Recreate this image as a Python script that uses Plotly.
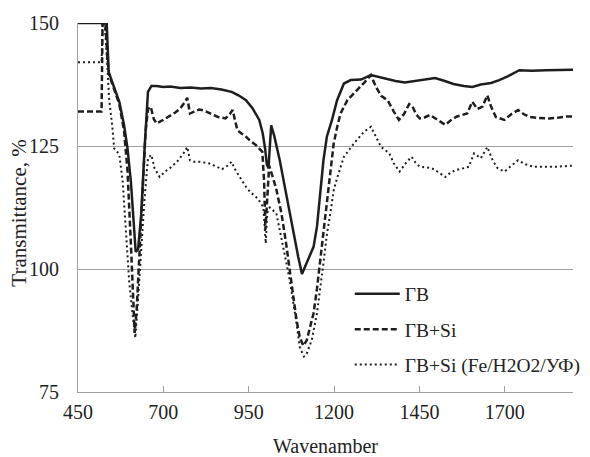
import plotly.graph_objects as go

# ΓB
wn_gv = [450, 530, 534, 540, 551, 562, 571, 585, 595, 605, 612, 619, 626, 635, 645, 650, 655, 665,
         680, 700, 720, 750, 780, 810, 840, 870, 900, 920, 942, 960, 981, 991, 998, 1003, 1008, 1012,
         1016, 1025, 1041, 1055, 1070, 1085, 1095, 1106, 1120, 1140, 1150, 1160, 1169, 1179, 1194,
         1209, 1229, 1249, 1279, 1308, 1348, 1380, 1407, 1440, 1470, 1496, 1520, 1550, 1580, 1605,
         1630, 1660, 1684, 1710, 1743, 1780, 1820, 1860, 1900]
t_gv = [150, 150, 150, 140, 138, 136, 134, 129.2, 124.5, 117.7, 111, 103.5, 104, 111, 124.5, 131.3,
        136, 137.2, 137.2, 137, 137.1, 136.8, 136.9, 136.7, 136.8, 136.5, 136, 135.3, 134.3, 132.8,
        130.3, 127.6, 124.5, 121.3, 120.5, 125, 129.2, 127, 122.1, 117, 111.3, 105.5, 102.5, 99,
        101.2, 104.5, 108.6, 115.4, 122.1, 126.9, 130.3, 134.3, 137.7, 138.4, 138.5, 139.4, 138.7,
        138.2, 137.9, 138.2, 138.5, 138.8, 138.3, 137.6, 137.2, 137, 137.5, 137.8, 138.4, 139.2,
        140.4, 140.3, 140.4, 140.4, 140.5]

# ΓB+Si
wn_si = [450, 519, 522, 530, 536, 541, 551, 562, 571, 585, 595, 605, 612, 616, 622, 630, 640, 648,
         655, 663, 672, 680, 697, 714, 735, 749, 762, 770, 778, 790, 805, 820, 840, 860, 882, 895,
         903, 910, 917, 930, 942, 955, 971, 990, 995, 999, 1004, 1010, 1030, 1046, 1060, 1075, 1090,
         1100, 1110, 1120, 1130, 1140, 1150, 1160, 1170, 1179, 1189, 1199, 1209, 1219, 1239, 1268,
         1290, 1308, 1323, 1338, 1357, 1375, 1390, 1405, 1420, 1430, 1440, 1451, 1465, 1481, 1500,
         1526, 1545, 1560, 1590, 1605, 1620, 1635, 1649, 1660, 1674, 1699, 1720, 1739, 1755, 1773,
         1800, 1830, 1860, 1880, 1900]
t_si = [132, 132, 150, 150, 143, 139.5, 137.5, 135.5, 133.5, 128, 120, 105, 93, 87, 92, 104, 118,
        128, 132.5, 133, 130.5, 129.6, 130.2, 130.9, 131.8, 132.6, 133.8, 134.8, 131.6, 132, 132.4,
        132.2, 131.6, 130.9, 130.6, 131.5, 132.3, 130, 128.2, 127.5, 126.9, 126, 125.2, 123.8, 118,
        108, 115, 121, 116.5, 111.3, 105, 97.8, 89.7, 86, 84.4, 85.5, 88, 91, 96, 102, 108, 114, 120,
        125.5, 128.8, 131.6, 134.3, 136.3, 138, 139.4, 137, 135.2, 134.3, 132, 130.3, 131.5, 133.5,
        133, 131.5, 130.6, 130.8, 131.3, 130.5, 129.3, 130.4, 131, 131.6, 134, 132.5, 133, 135.3,
        133, 130.9, 130.3, 131.5, 132.3, 131.5, 130.9, 130.7, 130.6, 130.8, 131, 131]

# ΓB+Si (Fe/H2O2/УФ)
wn_uv = [450, 519, 522, 528, 533, 541, 551, 556, 561, 571, 581, 590, 600, 610, 618, 626, 635, 645,
         655, 665, 674, 689, 705, 719, 740, 759, 770, 778, 790, 805, 833, 850, 872, 888, 900, 908,
         917, 930, 942, 955, 971, 985, 993, 997, 1000, 1003, 1006, 1012, 1031, 1051, 1070, 1090,
         1100, 1112, 1120, 1135, 1150, 1169, 1179, 1189, 1199, 1209, 1229, 1258, 1288, 1308, 1323,
         1338, 1362, 1375, 1392, 1410, 1427, 1440, 1451, 1470, 1486, 1505, 1526, 1540, 1555, 1580,
         1595, 1610, 1630, 1649, 1665, 1679, 1699, 1720, 1739, 1760, 1783, 1820, 1852, 1900]
t_uv = [142, 142, 150, 150, 145, 134.7, 128.6, 124.5, 124.2, 123.2, 117.7, 107.6, 97.4, 90.7, 86,
        94, 104.2, 114.4, 122.5, 123.2, 120.5, 118.7, 119.8, 120.5, 121.8, 123.5, 124.8, 122.1,
        121.8, 121.8, 121.5, 121, 120.3, 121, 121.8, 120.5, 119.4, 118, 116.7, 115.6, 114.7, 113.5,
        112.5, 108, 105.2, 110, 112, 112.5, 111.3, 104.5, 97.8, 89, 84, 82.2, 82.8, 85.6, 91, 101.2,
        107, 111.3, 116, 118.5, 122.8, 125.5, 127.9, 128.9, 127, 124.8, 123.5, 121.5, 119.8, 121.5,
        122.8, 121.5, 120.8, 120.7, 120.5, 119.7, 118.7, 119.5, 120.1, 120.5, 120.8, 123.5, 122.5,
        124.8, 122, 120.5, 119.8, 121, 122.1, 121.3, 120.8, 120.8, 120.8, 121]

x_ticks = [450, 700, 950, 1200, 1450, 1700]
y_ticks = [75, 100, 125, 150]

ink = "#1e1e1e"
grey = "#a0a0a0"
# only the generic name resolved to a Times-like face here
txt = dict(family="serif", size=20, color="#222222")

fig = go.Figure()
fig.add_trace(go.Scatter(x=wn_gv, y=t_gv, mode="lines", name="ΓB", legendgroup="a",
                         line=dict(color=ink, width=2.5)))
fig.add_trace(go.Scatter(x=wn_si, y=t_si, mode="lines", name="ΓB+Si", legendgroup="b",
                         line=dict(color=ink, width=2.5, dash="6px,3px")))
fig.add_trace(go.Scatter(x=wn_uv, y=t_uv, mode="lines", name="ΓB+Si (Fe/H2O2/УФ)", legendgroup="c",
                         line=dict(color=ink, width=2, dash="2px,3px")))

# y title placed by hand, it sits a bit below the plot centre in the original
fig.add_annotation(text="Transmittance, %", textangle=-90, xref="paper", yref="paper",
                   x=-0.12, y=0.485, xanchor="center", yanchor="middle", showarrow=False,
                   font=dict(family="serif", size=21, color="#222222"))

# the page body has an 8px margin, so the figure is shifted by it
fig.update_layout(
    width=582, height=449,
    margin=dict(l=70, r=17, t=15, b=65, autoexpand=False),
    paper_bgcolor="white", plot_bgcolor="white",
    font=txt,
    showlegend=True,
    legend=dict(x=0.549, y=0.318, xanchor="left", yanchor="top", bgcolor="rgba(0,0,0,0)",
                traceorder="grouped", tracegroupgap=7, itemwidth=45,
                font=dict(family="serif", size=19.5, color="#222222")),
    xaxis=dict(range=[450, 1900], tickvals=x_ticks, showgrid=False, zeroline=False,
               showline=True, linecolor=grey, linewidth=1, automargin=False,
               ticks="inside", ticklen=6, tickcolor=grey, ticklabelstandoff=2, tickfont=txt,
               title=dict(text="Wavenamber", standoff=18, font=txt)),
    yaxis=dict(range=[75, 150], tickvals=y_ticks, showgrid=True, gridcolor=grey, gridwidth=1,
               zeroline=False, showline=True, linecolor=grey, linewidth=1, ticks="",
               ticklabelstandoff=14, automargin=False, tickfont=txt),
)

fig.write_html("out.html")
